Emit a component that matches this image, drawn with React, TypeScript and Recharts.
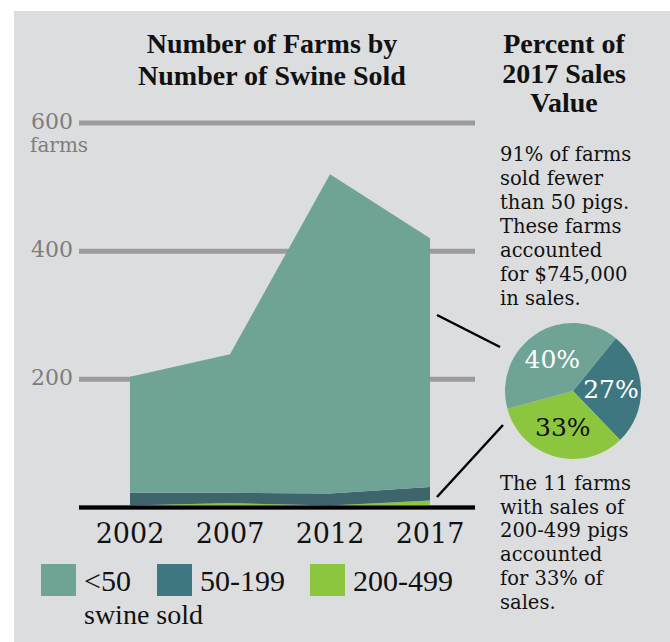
import { AreaChart, Area, XAxis, YAxis, CartesianGrid, PieChart, Pie, Cell } from 'recharts';

const YEARS = [2002, 2007, 2012, 2017];
const UNDER_50 = [181, 216, 498, 388];
const FROM_50_TO_199 = [20, 16, 19, 21];
const FROM_200_TO_499 = [3, 7, 3, 11];
const Y_TICKS = [200, 400, 600];

const SHARE_LABELS = ['50-199', '200-499', '<50'];
const SHARE_VALUES = [27, 33, 40];

const LEGEND_NAMES = ['<50', '50-199', '200-499'];
const LEGEND_COLORS = ['#6fa396', '#3e7780', '#8cc63f'];

const NOTE_TOP = ['91% of farms', 'sold fewer', 'than 50 pigs.', 'These farms', 'accounted', 'for $745,000', 'in sales.'];
const NOTE_BOTTOM = ['The 11 farms', 'with sales of', '200-499 pigs', 'accounted', 'for 33% of', 'sales.'];

const areaData = YEARS.map((year, i) => ({
    year,
    small: UNDER_50[i],
    mid: FROM_50_TO_199[i],
    large: FROM_200_TO_499[i],
}));

const pieData = SHARE_LABELS.map((name, i) => ({ name, value: SHARE_VALUES[i] }));
const PIE_COLORS = ['#3e7780', '#8cc63f', '#6fa396'];
const PIE_TEXT = ['#ffffff', '#111111', '#ffffff'];

const SERIF = '"DejaVu Serif", serif';
const TITLE_FONT = '"Liberation Serif", serif';

function YTick({ y, payload }: any) {
    return (
        <g>
            <text x={73} y={y + 6} textAnchor="end" fill="#7d7d7d" fontSize={22} fontFamily={SERIF}>
                {payload.value}
            </text>
            {payload.value === 600 && (
                <text x={30} y={y + 29} fill="#7d7d7d" fontSize={20} fontFamily={SERIF}>farms</text>
            )}
        </g>
    );
}

function XTick({ x, y, payload }: any) {
    return (
        <text x={x} y={y + 27} textAnchor="middle" fill="#111" fontSize={27} fontFamily={SERIF}>
            {payload.value}
        </text>
    );
}

function PieLabel({ cx, cy, midAngle, index, value }: any) {
    const r = 38;
    const rad = (Math.PI / 180) * midAngle;
    return (
        <text
            x={cx + r * Math.cos(rad)}
            y={cy - r * Math.sin(rad)}
            textAnchor="middle"
            dominantBaseline="central"
            fill={PIE_TEXT[index]}
            fontSize={25}
            fontFamily={SERIF}
        >
            {value}%
        </text>
    );
}

export default function App() {
    return (
        <div style={{ position: 'absolute', left: 0, top: 0, width: 670, height: 642, background: '#fff', overflow: 'hidden' }}>
            <div style={{ position: 'absolute', left: 14, top: 11, width: 656, height: 631, background: '#dcdddf' }} />

            <div style={{ position: 'absolute', left: 0, top: 0 }}>
                <AreaChart width={670} height={642} data={areaData} margin={{ top: 123, right: 195, left: 0, bottom: 94.5 }}>
                    <CartesianGrid vertical={false} stroke="#9b9b9d" strokeWidth={5} />
                    <XAxis
                        dataKey="year"
                        type="number"
                        domain={[1999.45, 2019.25]}
                        ticks={YEARS}
                        allowDataOverflow
                        height={40}
                        axisLine={{ stroke: '#000', strokeWidth: 4 }}
                        tickLine={false}
                        tick={<XTick />}
                    />
                    <YAxis
                        width={79}
                        domain={[0, 600]}
                        ticks={Y_TICKS}
                        axisLine={false}
                        tickLine={false}
                        tick={<YTick />}
                    />
                    <Area type="linear" dataKey="large" stackId="s" stroke="none" fill="#8cc63f" fillOpacity={1} isAnimationActive={false} />
                    <Area type="linear" dataKey="mid" stackId="s" stroke="none" fill="#3d656b" fillOpacity={1} isAnimationActive={false} />
                    <Area type="linear" dataKey="small" stackId="s" stroke="none" fill="#6fa396" fillOpacity={1} isAnimationActive={false} />
                </AreaChart>
            </div>

            <div style={{ position: 'absolute', left: 493, top: 311 }}>
                <PieChart width={160} height={160} margin={{ top: 0, right: 0, bottom: 0, left: 0 }}>
                    <Pie
                        data={pieData}
                        dataKey="value"
                        cx={80}
                        cy={80}
                        outerRadius={68}
                        startAngle={51}
                        endAngle={-309}
                        stroke="none"
                        label={<PieLabel />}
                        labelLine={false}
                        isAnimationActive={false}
                    >
                        {pieData.map((_, i) => (
                            <Cell key={`slice-${i}`} fill={PIE_COLORS[i]} />
                        ))}
                    </Pie>
                </PieChart>
            </div>

            <svg width={670} height={642} style={{ position: 'absolute', left: 0, top: 0, pointerEvents: 'none' }}>
                {/* titles */}
                <g fontFamily={TITLE_FONT} fontWeight="bold" fontSize={28} fill="#111" textAnchor="middle">
                    <text x={272} y={53}>Number of Farms by</text>
                    <text x={272} y={85}>Number of Swine Sold</text>
                    <text x={564} y={53}>Percent of</text>
                    <text x={564} y={83}>2017 Sales</text>
                    <text x={564} y={112}>Value</text>
                </g>

                {/* callout lines */}
                <line x1={437} y1={315} x2={500} y2={347} stroke="#000" strokeWidth={2.5} />
                <line x1={437} y1={497} x2={503} y2={425} stroke="#000" strokeWidth={2.5} />

                {/* notes */}
                <g fontFamily={SERIF} fontSize={19.5} fill="#111">
                    {NOTE_TOP.map((t, i) => (
                        <text key={`t-${i}`} x={500} y={161 + i * 24}>{t}</text>
                    ))}
                    {NOTE_BOTTOM.map((t, i) => (
                        <text key={`b-${i}`} x={500} y={490 + i * 23.7}>{t}</text>
                    ))}
                </g>

                {/* legend */}
                <g fontFamily={TITLE_FONT} fill="#111">
                    {LEGEND_NAMES.map((name, i) => {
                        const lx = [41, 157, 310][i];
                        return (
                            <g key={name}>
                                <rect x={lx} y={564} width={35} height={32} fill={LEGEND_COLORS[i]} />
                                <text x={lx + 43} y={591} fontSize={30}>{name}</text>
                            </g>
                        );
                    })}
                    <text x={84} y={624} fontSize={28}>swine sold</text>
                </g>
            </svg>
        </div>
    );
}
